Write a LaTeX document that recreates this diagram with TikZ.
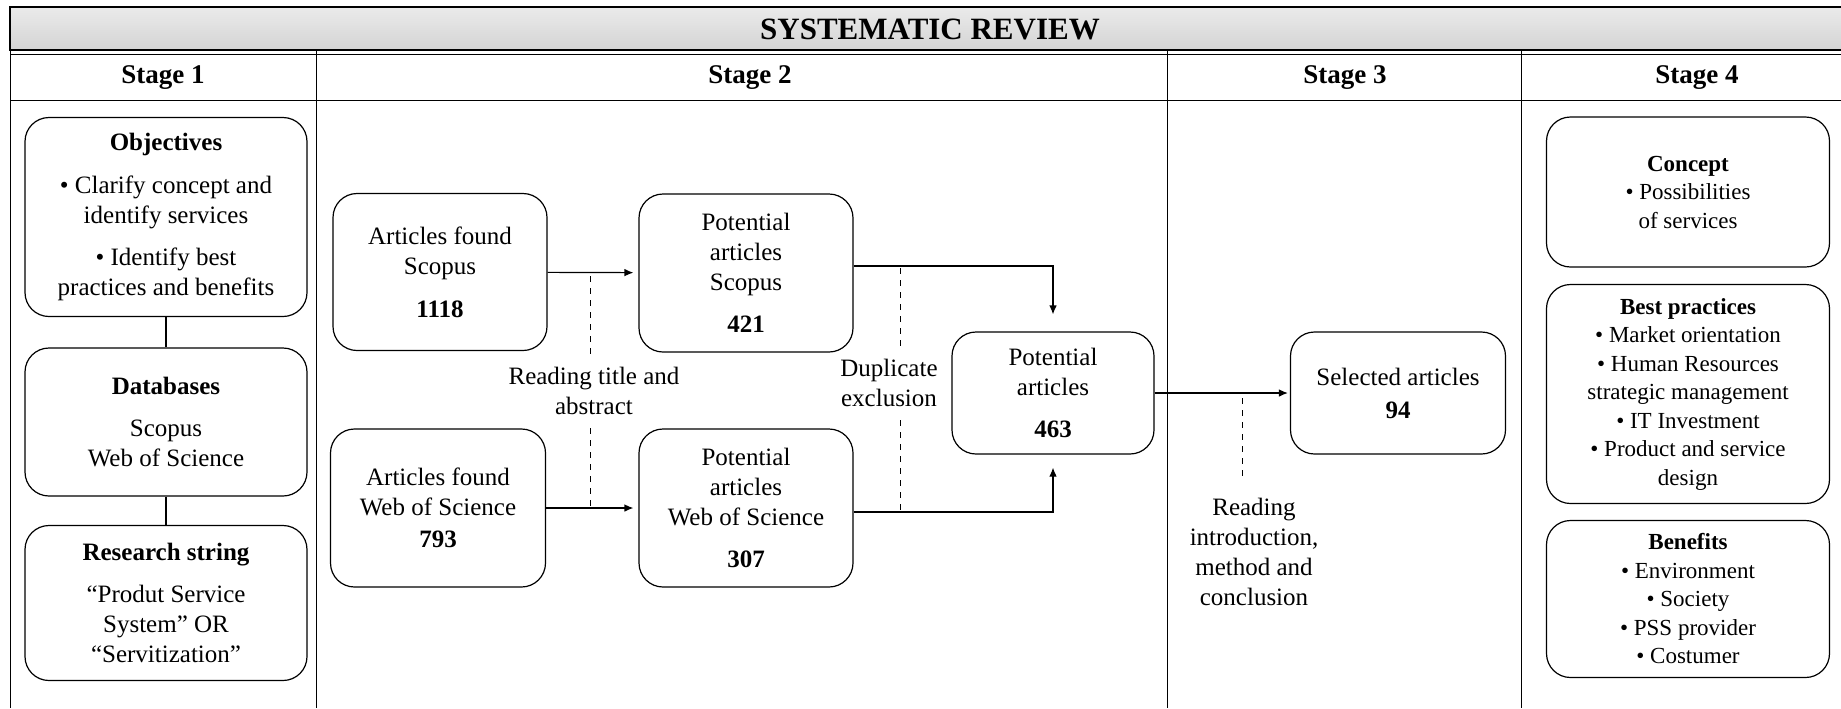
\documentclass[tikz,border=0pt]{standalone}
\usepackage{fontspec}
\setmainfont{Liberation Serif}
\usepackage{tikz}
\usetikzlibrary{calc,positioning,arrows,arrows.meta}

\newcommand{\bodyfont}{\fontsize{12.5}{15}\selectfont}
\newcommand{\sidefont}{\fontsize{11.5}{14.25}\selectfont}

\begin{document}
\begin{tikzpicture}[x=.5pt, y=-.5pt,
  box/.style={draw, rounded corners=12pt, line width=.6pt, align=center, inner sep=0pt, font=\bodyfont},
  note/.style={align=center, inner xsep=0pt, font=\bodyfont},
  stagehead/.style={font=\fontsize{13.5}{16}\selectfont\bfseries},
  flow/.style={-{Latex[length=4.5pt,width=3.8pt]}, line width=.6pt}]
\useasboundingbox (0,0) rectangle (1841,708);
%\draw[help lines] (0,0) grid[step=100] (1841,708);
% title band
\fill[top color=gray!16, bottom color=gray!34] (10,7) rectangle (1841,50);
\draw[line width=.7pt] (1841,7) -- (10,7) -- (10,50) -- (1841,50);
\path (930,29) node[font=\fontsize{15.5}{18}\selectfont\bfseries] (title) {SYSTEMATIC REVIEW};
% stage columns
\draw (10,54) -- (1841,54);
\draw (10,100) -- (1841,100);
\foreach \x in {10,316,1167,1521}{\draw (\x,50) -- (\x,708);}
\foreach \x/\n in {163/1,750/2,1345/3,1697/4}{\path (\x,78) node[stagehead] (stage\n) {Stage \n};}

% stage 1
\path (166,217) node[box, minimum width=141pt, minimum height=99.5pt] (objectives)
  {\textbf{Objectives}\\[6.5pt]\textbullet\ Clarify concept and\\identify services\\[6pt]\textbullet\ Identify best\\practices and benefits};
\path (166,422) node[box, minimum width=141pt, minimum height=74pt] (databases)
  {\textbf{Databases}\\[6pt]Scopus\\Web of Science};
\path (166,603) node[box, minimum width=141pt, minimum height=77.5pt] (research)
  {\textbf{Research string}\\[6pt]“Produt Service\\System” OR\\“Servitization”};
\draw[line width=.6pt] (objectives) -- (databases);
\draw[line width=.6pt] (databases) -- (research);

% stage 2
\path (440,272) node[box, minimum width=107pt, minimum height=78.5pt] (scopusfound)
  {Articles found\\Scopus\\[6.5pt]\textbf{1118}};
\path (438,508) node[box, minimum width=107.5pt, minimum height=79pt] (wosfound)
  {Articles found\\Web of Science\\[1pt]\textbf{793}};
\path (746,273) node[box, minimum width=107pt, minimum height=79pt] (scopuspot)
  {Potential\\articles\\Scopus\\[6pt]\textbf{421}};
\path (746,508) node[box, minimum width=107pt, minimum height=79pt] (wospot)
  {Potential\\articles\\Web of Science\\[6pt]\textbf{307}};
\path (1053,393) node[box, minimum width=101pt, minimum height=61pt] (allpot)
  {Potential\\articles\\[6pt]\textbf{463}};
\coordinate (scopusout) at ([yshift=3.5pt]scopuspot.east);
\coordinate (wosout) at ([yshift=-2pt]wospot.east);
\draw[flow, shorten >=2.5pt] (scopusfound) -- (scopuspot);
\draw[flow, shorten >=2.5pt] (wosfound) -- (wospot);
\draw[flow, shorten >=8.5pt] (scopusout) -| (allpot.north);
\draw[flow, shorten >=6.5pt] (wosout) -| (allpot.south);
\path (594,391) node[note, inner ysep=6.5pt] (readta) {Reading title and\\abstract};
\draw[dashed] ([xshift=-2pt]readta.north) -- ([xshift=-2pt]readta.north |- scopusfound.east);
\draw[dashed] ([xshift=-2pt]readta.south) -- ([xshift=-2pt]readta.south |- wosfound.east);
\path (889,383) node[note, inner ysep=6.5pt] (duplex) {Duplicate\\exclusion};
\draw[dashed] ([xshift=5.5pt]duplex.north) -- ([xshift=5.5pt]duplex.north |- scopusout);
\draw[dashed] ([xshift=5.5pt]duplex.south) -- ([xshift=5.5pt]duplex.south |- wosout);

% stage 3
\path (1398,393) node[box, minimum width=107.5pt, minimum height=61pt] (selected)
  {Selected articles\\[1.5pt]\textbf{94}};
\draw[flow, shorten >=1pt] (allpot) -- (selected);
\path (1254,552) node[note, inner ysep=11pt] (readic) {Reading\\introduction,\\method and\\conclusion};
\draw[dashed] ([xshift=-6pt]readic.north) -- ([xshift=-6pt]readic.north |- allpot.east);

% stage 4
\path (1688,192) node[box, font=\sidefont, minimum width=141.5pt, minimum height=75pt] (concept)
  {\textbf{Concept}\\\textbullet\ Possibilities\\of services};
\path (1688,394) node[box, font=\sidefont, minimum width=141.5pt, minimum height=109.5pt] (bestpr)
  {\textbf{Best practices}\\\textbullet\ Market orientation\\\textbullet\ Human Resources\\strategic management\\\textbullet\ IT Investment\\\textbullet\ Product and service\\design};
\path (1688,599) node[box, font=\sidefont, minimum width=141.5pt, minimum height=78.5pt] (benefits)
  {\textbf{Benefits}\\\textbullet\ Environment\\\textbullet\ Society\\\textbullet\ PSS provider\\\textbullet\ Costumer};
\end{tikzpicture}
\end{document}
